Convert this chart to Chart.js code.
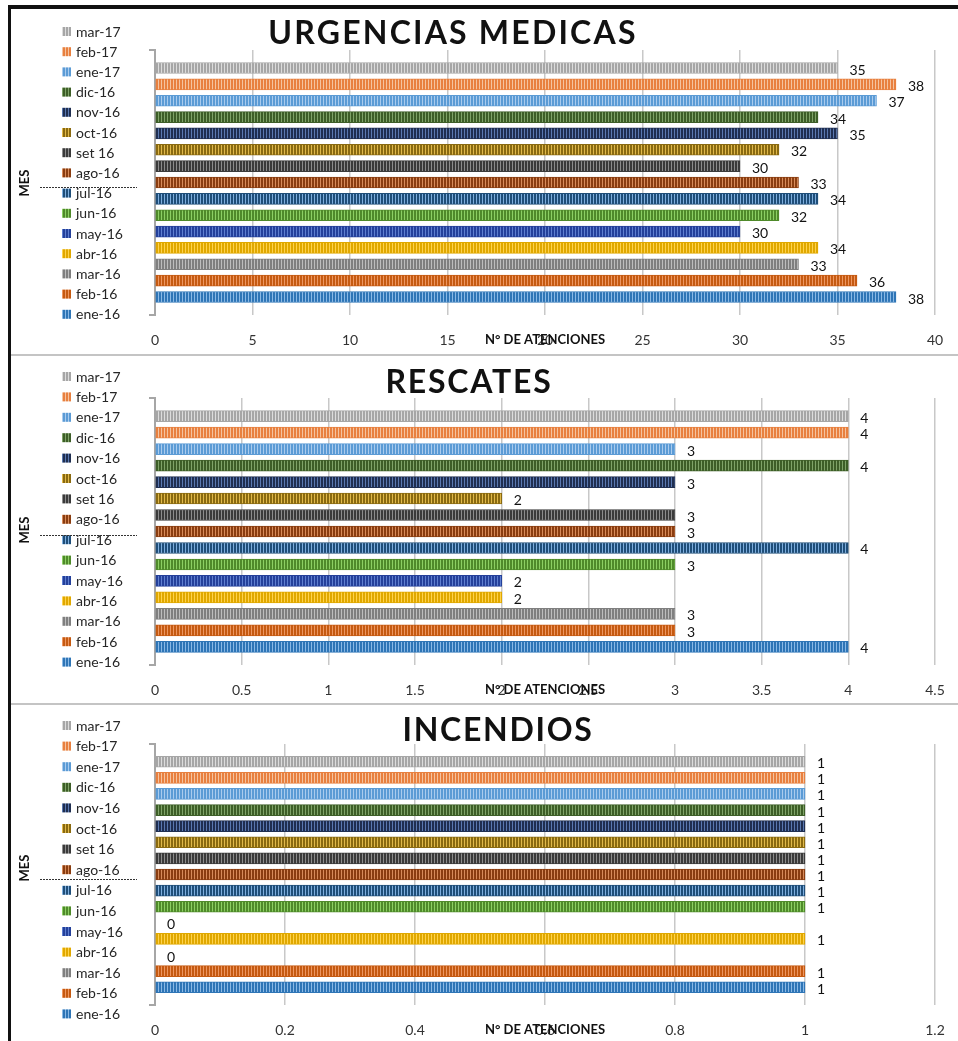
<!DOCTYPE html>
<html lang="es">
<head>
  <meta charset="UTF-8" />
  <title>Atenciones por mes</title>
  <script src="https://cdn.jsdelivr.net/npm/chart.js"></script>
  <style>
    body { margin: 0; background: #fff; font-family: Lato, sans-serif; }
    #wrap { position: relative; width: 958px; height: 1041px; overflow: hidden; }
    .frame-top { position: absolute; left: 8px; top: 5px; width: 950px; height: 4px; background: #111; }
    .frame-left { position: absolute; left: 8px; top: 5px; width: 3px; height: 1036px; background: #111; }
    .divider { position: absolute; left: 11px; width: 947px; height: 2px; background: #c4c4c4; }
    canvas { position: absolute; left: 12px; }
  </style>
</head>
<body>
  <div id="wrap">
    <canvas id="urg" width="960" height="345" style="top:9px"></canvas>
    <canvas id="res" width="960" height="346" style="top:357px"></canvas>
    <canvas id="inc" width="960" height="335" style="top:706px"></canvas>
    <div class="frame-top"></div>
    <div class="frame-left"></div>
    <div class="divider" style="top:354px"></div>
    <div class="divider" style="top:703px"></div>
  </div>

  <script>
    // meses, de abajo (ene-16) hacia arriba (mar-17)
    const meses = ['ene-16', 'feb-16', 'mar-16', 'abr-16', 'may-16', 'jun-16', 'jul-16', 'ago-16',
                   'set 16', 'oct-16', 'nov-16', 'dic-16', 'ene-17', 'feb-17', 'mar-17'];

    const urgencias = [38, 36, 33, 34, 30, 32, 34, 33, 30, 32, 35, 34, 37, 38, 35];
    const rescates  = [4, 3, 3, 2, 2, 3, 4, 3, 3, 2, 3, 4, 3, 4, 4];
    const incendios = [1, 1, 0, 1, 0, 1, 1, 1, 1, 1, 1, 1, 1, 1, 1];

    // colores de cada mes: base y raya clara
    const baseCol = ['#2e75b6', '#c55a11', '#7f7f7f', '#e0a800', '#24409a', '#4f8a2a', '#1f4e79', '#8a3d10',
                     '#3a3a3a', '#8a6a10', '#1f2e50', '#3d5e27', '#5b9bd5', '#e8803f', '#a6a6a6'];
    const rayaCol = ['#8ab9e6', '#ee9660', '#bdbdbd', '#ffd24d', '#5f7fd0', '#8ccf63', '#7eaede', '#d88b5a',
                     '#8c8c8c', '#e0b84a', '#5a78b0', '#7fa368', '#a9cbee', '#f5c39f', '#dcdcdc'];

    const FONT = 'Lato, "Liberation Sans", sans-serif';

    function rayas(base, raya) {
      const c = document.createElement('canvas');
      c.width = 3; c.height = 1;
      const g = c.getContext('2d');
      g.fillStyle = base; g.fillRect(0, 0, 2, 1);
      g.fillStyle = raya; g.fillRect(2, 0, 1, 1);
      return g.createPattern(c, 'repeat');
    }
    const patrones = baseCol.map((b, i) => rayas(b, rayaCol[i]));

    const decor = {
      id: 'decor',
      afterDatasetsDraw(chart) {
        const ctx = chart.ctx;
        const meta = chart.getDatasetMeta(0);
        const vals = chart.data.datasets[0].data;
        ctx.save();
        ctx.font = '14px ' + FONT;
        ctx.fillStyle = '#111';
        ctx.textBaseline = 'middle';
        ctx.textAlign = 'left';
        meta.data.forEach((bar, i) => {
          ctx.fillText(String(vals[i].x), bar.x + 12, bar.y + 2);
        });
        ctx.restore();
      },
      afterDraw(chart, args, o) {
        const ctx = chart.ctx;
        const a = chart.chartArea;
        ctx.save();
        // titulo
        ctx.font = 'bold 32px ' + FONT;
        ctx.letterSpacing = o.spacing + 'px';
        ctx.fillStyle = '#111';
        ctx.textAlign = 'center';
        ctx.textBaseline = 'middle';
        ctx.fillText(o.title, o.titleX, o.titleY);
        ctx.letterSpacing = '0px';

        // titulo del eje x, encima de las etiquetas como en la referencia
        ctx.font = 'bold 13px ' + FONT;
        ctx.fillText('N° DE ATENCIONES', (a.left + a.right) / 2, a.bottom + 25);

        // leyenda, mar-17 arriba
        ctx.font = '14px ' + FONT;
        ctx.textAlign = 'left';
        for (let k = 0; k < meses.length; k++) {
          const i = meses.length - 1 - k;
          const y = o.legendY + k * o.legendStep;
          ctx.fillStyle = patrones[i];
          ctx.fillRect(50, y - 5, 9, 9);
          ctx.fillStyle = '#262626';
          ctx.fillText(meses[i], 64, y);
        }

        // MES
        ctx.save();
        ctx.translate(13, o.mesY);
        ctx.rotate(-Math.PI / 2);
        ctx.font = 'bold 13px ' + FONT;
        ctx.fillStyle = '#111';
        ctx.textAlign = 'center';
        ctx.fillText('MES', 0, 0);
        ctx.restore();

        // linea punteada
        ctx.strokeStyle = '#333';
        ctx.lineWidth = 1;
        ctx.setLineDash([2, 1]);
        ctx.beginPath();
        ctx.moveTo(28, o.dotY + 0.5);
        ctx.lineTo(125, o.dotY + 0.5);
        ctx.stroke();
        ctx.restore();
      }
    };

    function grafico(id, valores, p) {
      const top = p.canvasTop;
      const chart = new Chart(document.getElementById(id), {
        type: 'bar',
        data: {
          datasets: [{
            data: valores.map((v, i) => ({ x: v, y: i })),
            backgroundColor: patrones,
            borderColor: baseCol,
            borderWidth: 1,
            borderSkipped: false,
            barThickness: 11
          }]
        },
        options: {
          indexAxis: 'y',
          responsive: false,
          animation: false,
          layout: { padding: { left: 130, right: 37, top: 40, bottom: 8 } },
          plugins: {
            legend: { display: false },
            tooltip: { enabled: false },
            decor: {
              title: p.title, spacing: p.spacing,
              titleX: p.titleX - 12, titleY: p.titleY - top,
              legendY: p.legendY - top, legendStep: p.legendStep,
              mesY: p.mesY - top, dotY: p.dotY - top
            }
          },
          scales: {
            x: {
              type: 'linear',
              min: 0,
              max: p.max,
              ticks: {
                stepSize: p.step,
                padding: 17,
                color: '#333',
                font: { family: FONT, size: 14 },
                callback: v => String(Math.round(v * 10) / 10)
              },
              grid: { color: '#c8c8c8', lineWidth: 1.5, drawTicks: false },
              border: { display: false }
            },
            y: {
              type: 'linear',
              offset: false,
              min: -1.1,
              max: 15.1,
              afterBuildTicks: s => { s.ticks = [{ value: s.min }, { value: s.max }]; },
              ticks: { display: false },
              grid: { offset: false, drawOnChartArea: false, drawTicks: true, tickLength: 6, color: '#a6a6a6', lineWidth: 2 },
              border: { color: '#a6a6a6', width: 2 }
            }
          }
        },
        plugins: [decor]
      });

      // ajustar el area del grafico a la posicion de la referencia
      for (let n = 0; n < 3; n++) {
        const a = chart.chartArea;
        const pad = chart.config.options.layout.padding;
        chart.config.options.layout.padding = {
          left: pad.left + (155 - 12) - a.left,
          right: pad.right + a.right - (935 - 12),
          top: pad.top + (p.axisTop - top) - a.top,
          bottom: pad.bottom + a.bottom - (p.axisBottom - top)
        };
        chart.update();
      }
      return chart;
    }

    grafico('urg', urgencias, {
      title: 'URGENCIAS MEDICAS', spacing: 2.2, max: 40, step: 5,
      canvasTop: 9, axisTop: 50, axisBottom: 315,
      titleX: 453, titleY: 34, legendY: 32, legendStep: 20.2, mesY: 183, dotY: 187
    });
    grafico('res', rescates, {
      title: 'RESCATES', spacing: 1.8, max: 4.5, step: 0.5,
      canvasTop: 357, axisTop: 398, axisBottom: 665,
      titleX: 469, titleY: 383, legendY: 377, legendStep: 20.4, mesY: 530, dotY: 535
    });
    grafico('inc', incendios, {
      title: 'INCENDIOS', spacing: 1.7, max: 1.2, step: 0.2,
      canvasTop: 706, axisTop: 744, axisBottom: 1005,
      titleX: 498, titleY: 731, legendY: 726, legendStep: 20.6, mesY: 868, dotY: 879
    });
  </script>
</body>
</html>
